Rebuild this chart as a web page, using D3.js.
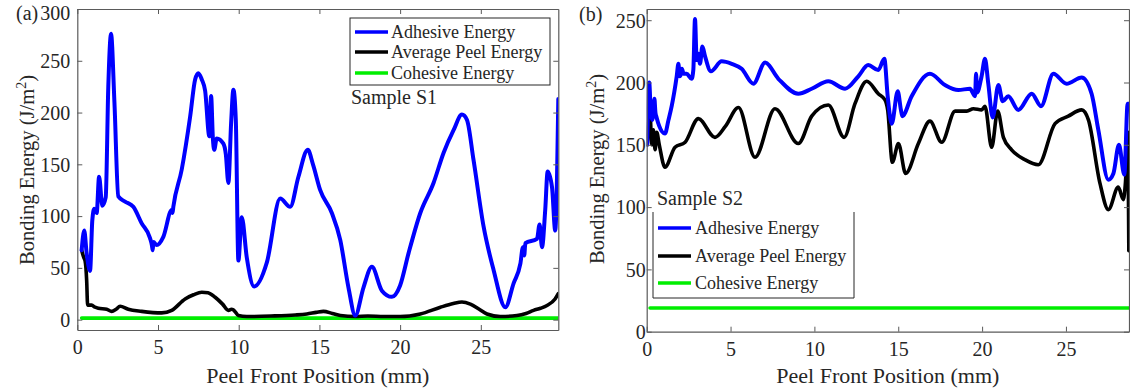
<!DOCTYPE html>
<html><head><meta charset="utf-8">
<script src="https://cdn.jsdelivr.net/npm/d3@7"></script>
<style>
html,body{margin:0;padding:0;background:#fff;}
</style></head>
<body><svg id="c" width="1130" height="391"></svg>
<script>
// ---- data ----
const seriesNames = ["Adhesive Energy","Average Peel Energy","Cohesive Energy"];
const xTicks = [0,5,10,15,20,25];
const yTicksA = [0,50,100,150,200,250,300];
const yTicksB = [0,50,100,150,200,250];

const adhesiveA = [[0.27,67],[0.43,86],[0.58,64],[0.79,47],[0.93,96],[1.05,107],[1.2,103],[1.35,138],[1.55,110],[1.76,118],[1.92,225],[2.09,276],[2.3,210],[2.54,119],[2.96,114],[3.47,109],[3.99,93],[4.5,79],[4.62,72],[4.67,67],[4.72,75],[4.92,72],[5.33,80],[5.85,106],[5.9,103],[5.95,109],[6.47,145],[6.99,196],[7.3,232],[7.5,238],[7.71,232],[7.92,221],[8.18,177],[8.29,216],[8.4,175],[8.48,164],[8.64,175],[9.05,170],[9.2,160],[9.36,132],[9.53,190],[9.67,222],[9.82,193],[9.98,57],[10.19,99],[10.5,60],[10.96,32],[11.74,55],[12.57,117],[13.19,109],[13.7,138],[14.28,164],[14.6,150],[15.05,125],[15.77,103],[16.29,77],[16.8,31],[17.22,4],[17.73,31],[18.25,51],[18.87,28],[19.49,22],[20.0,33],[20.52,64],[21.25,103],[22.07,132],[22.69,161],[23.31,183],[23.83,198],[24.14,193],[24.55,154],[25.17,90],[25.79,48],[26.52,12],[27.03,35],[27.45,54],[27.61,70],[27.69,62],[27.76,74],[28.48,78],[28.64,92],[28.79,70],[28.99,106],[29.14,143],[29.41,128],[29.61,86],[29.8,213]];
const peelA = [[0.27,67],[0.4,60],[0.48,57],[0.58,38],[0.64,14],[0.89,14],[1.1,12],[1.3,11],[1.82,10],[2.13,8],[2.4,10],[2.65,13],[3.16,10],[3.99,8],[5.23,6.5],[5.85,9],[6.68,20],[7.2,24],[7.71,26.5],[8.1,26],[8.54,21.6],[9.0,15],[9.36,9],[9.55,10],[9.67,9.5],[9.98,4],[10.5,3],[12,3.5],[13.5,4.5],[14.22,5.5],[14.8,7],[15.25,8],[15.8,6],[16.3,4],[17.22,3],[18,3.5],[19,3],[20,3],[21.25,5.5],[22.5,12],[23.3,15.5],[23.83,17],[24.35,15],[24.9,10],[25.38,5.5],[26.2,3],[27.24,4],[27.8,6],[28.27,9],[28.7,11],[29.1,13.6],[29.6,20],[29.8,25]];
const cohesiveA = [[0.27,1.5],[29.8,1.5]];

const adhesiveB = [[0.03,150],[0.15,200],[0.25,175],[0.34,170],[0.46,187],[0.52,176],[0.59,172],[0.75,165],[1.09,159],[1.3,170],[1.49,181],[1.79,205],[1.89,215],[1.97,205],[2.05,207],[2.1,211],[2.2,207],[2.38,207],[2.68,203],[2.78,210],[2.88,251],[2.98,218],[3.08,223],[3.18,215],[3.32,229],[3.48,221],[3.83,209],[4.47,217],[5.07,215],[5.66,211],[6.36,199],[7.06,216],[7.85,203],[9.04,191],[9.84,195],[10.83,201],[11.83,195],[12.62,205],[13.21,214],[13.81,210],[14.17,219],[14.37,189],[14.61,167],[14.97,193],[15.16,178],[15.24,173],[15.8,189],[16.89,207],[17.79,198],[18.58,194],[19.28,195],[19.58,189],[19.64,207],[19.7,192],[19.97,205],[20.17,219],[20.37,199],[20.63,172],[20.97,198],[21.23,185],[21.56,189],[22.16,178],[22.96,191],[23.51,181],[24.25,207],[25.04,199],[25.94,204],[26.53,191],[26.93,162],[27.53,122],[27.83,127],[28.16,150],[28.48,126],[28.68,183],[28.76,183]];
const peelB = [[0.03,150],[0.2,175],[0.3,150],[0.4,162],[0.5,146],[0.6,160],[0.75,150],[1.09,132],[1.69,148],[2.29,152],[3.08,171],[4.07,156],[4.7,165],[5.47,180],[6.46,140],[7.65,179],[9.04,151],[9.84,173],[10.83,182],[11.77,156],[12.42,183],[13.12,201],[13.81,191],[14.21,186],[14.37,178],[14.65,136],[15.01,151],[15.44,127],[16.2,151],[16.89,169],[17.59,152],[18.39,177],[19.09,177],[19.48,179],[19.97,178],[20.17,181],[20.57,148],[20.93,177],[21.27,156],[21.76,146],[22.56,138],[23.35,134],[24.35,167],[25.14,173],[25.94,178],[26.34,170],[27.03,119],[27.53,98],[28.12,116],[28.42,106],[28.55,120],[28.7,160],[28.75,65]];
const cohesiveB = [[0.2,19],[28.76,19]];

const colors = ["#0000ff","#000000","#00ee00"];
const FONT = "Liberation Serif";
const TXT = "#262626";

// ---- drawing ----
const svg = d3.select("#c").attr("font-family",FONT);
svg.append("rect").attr("width",1130).attr("height",391).attr("fill","#fff");

function txt(sel){ return sel.attr("font-family",FONT).attr("fill",TXT); }

function panel(cfg){
  const x = d3.scaleLinear().domain(cfg.xDom).range([cfg.x0,cfg.x1]);
  const y = d3.scaleLinear().domain(cfg.yDom).range([cfg.y1,cfg.y0]);
  const g = svg.append("g");
  const cid = "clip"+cfg.id;
  svg.append("clipPath").attr("id",cid).append("rect")
    .attr("x",cfg.x0).attr("y",cfg.y0).attr("width",cfg.x1-cfg.x0).attr("height",cfg.y1-cfg.y0);
  const line = d3.line().x(d=>x(d[0])).y(d=>y(d[1])).curve(d3.curveMonotoneX);
  const lines = g.append("g").attr("clip-path",`url(#${cid})`);
  [cfg.coh, cfg.peel, cfg.adh].forEach((s,i)=>{
    const ci = [2,1,0][i];
    lines.append("path").datum(s).attr("d",line).attr("fill","none")
      .attr("stroke",colors[ci]).attr("stroke-width",ci===0?4:3.6)
      .attr("stroke-linejoin","round").attr("stroke-linecap","round");
  });
  const ax = "#5a5a5a";
  const fmt = d3.format("d");
  const bottom = d3.axisBottom(x).tickValues(cfg.xTicks).tickSizeInner(-5).tickSizeOuter(0).tickPadding(10).tickFormat(fmt);
  const top = d3.axisTop(x).tickValues(cfg.xTicks).tickSizeInner(-5).tickSizeOuter(0).tickFormat("");
  const left = d3.axisLeft(y).tickValues(cfg.yTicks).tickSizeInner(-5).tickSizeOuter(0).tickPadding(cfg.yPad).tickFormat(fmt);
  const right = d3.axisRight(y).tickValues(cfg.yTicks).tickSizeInner(-5).tickSizeOuter(0).tickFormat("");
  const gb = g.append("g").attr("transform",`translate(0,${cfg.y1})`).call(bottom);
  const gt = g.append("g").attr("transform",`translate(0,${cfg.y0})`).call(top);
  const gl = g.append("g").attr("transform",`translate(${cfg.x0},0)`).call(left);
  const gr = g.append("g").attr("transform",`translate(${cfg.x1},0)`).call(right);
  [gb,gt,gl,gr].forEach(a=>{
    a.attr("font-family",FONT).attr("font-size",20);
    a.select(".domain").attr("stroke",ax).attr("stroke-width",1.2);
    a.selectAll(".tick line").attr("stroke",ax);
    txt(a.selectAll("text")).attr("font-size",20);
  });
  gb.selectAll("text").attr("dy","0.71em");
  gl.selectAll("text").attr("dy",d => (y(d) - cfg.y0 < 6) ? "0.5em" : "0.34em");
  txt(g.append("text")).attr("x",(cfg.x0+cfg.x1)/2).attr("y",383).attr("text-anchor","middle")
    .attr("font-size",22).text("Peel Front Position (mm)");
  const yl = txt(g.append("text")).attr("transform",`translate(${cfg.ylx},${cfg.yly}) rotate(-90)`)
    .attr("text-anchor","middle").attr("font-size",20.5);
  yl.append("tspan").text("Bonding Energy (J/m");
  yl.append("tspan").attr("font-size",14).attr("dy",-8).text("2");
  yl.append("tspan").attr("dy",8).text(")");
  txt(g.append("text")).attr("x",cfg.lx).attr("y",cfg.ly).attr("font-size",20).text(cfg.letter);
  return {x,y,g};
}

panel({id:"a",x0:77.3,x1:558.3,y0:9,y1:330,xDom:[0,29.8],yDom:[-10,300],
  xTicks,yTicks:yTicksA,yPad:7,adh:adhesiveA,peel:peelA,coh:cohesiveA,ylx:34,yly:170,letter:"(a)",lx:16,ly:20});
panel({id:"b",x0:646.7,x1:1129,y0:9,y1:331.7,xDom:[0,28.76],yDom:[0,259],
  xTicks,yTicks:yTicksB,yPad:1,adh:adhesiveB,peel:peelB,coh:cohesiveB,ylx:604,yly:169,letter:"(b)",lx:579,ly:21});

// legend A
(function(){
  const g = svg.append("g");
  g.append("rect").attr("x",350).attr("y",18).attr("width",200).attr("height",67)
    .attr("fill","#fff").attr("stroke","#262626").attr("stroke-width",1);
  const rows=[32,52,73];
  seriesNames.forEach((n,i)=>{
    g.append("line").attr("x1",355).attr("x2",388).attr("y1",rows[i]).attr("y2",rows[i])
      .attr("stroke",colors[i]).attr("stroke-width",3.6);
    txt(g.append("text")).attr("x",391).attr("y",rows[i]).attr("dy","0.33em").attr("font-size",18).text(n);
  });
  txt(g.append("text")).attr("x",351).attr("y",104).attr("font-size",20).text("Sample S1");
})();
// legend B
(function(){
  const g = svg.append("g");
  g.append("rect").attr("x",653).attr("y",212).attr("width",201).attr("height",86).attr("fill","#fff");
  g.append("path").attr("d","M653,212V298H854V212").attr("fill","none").attr("stroke","#262626").attr("stroke-width",1);
  const rows=[228,256,283];
  seriesNames.forEach((n,i)=>{
    g.append("line").attr("x1",658).attr("x2",691).attr("y1",rows[i]).attr("y2",rows[i])
      .attr("stroke",colors[i]).attr("stroke-width",3.6);
    txt(g.append("text")).attr("x",695).attr("y",rows[i]).attr("dy","0.33em").attr("font-size",18).text(n);
  });
  txt(g.append("text")).attr("x",657).attr("y",205).attr("font-size",20).text("Sample S2");
})();
</script></body></html>
